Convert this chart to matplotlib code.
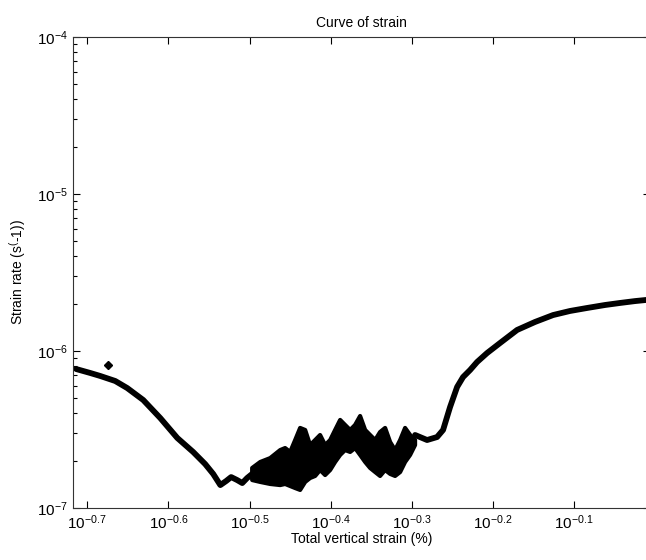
import numpy as np
import matplotlib
matplotlib.use("Agg")
import matplotlib.pyplot as plt
from matplotlib.ticker import FixedLocator, FixedFormatter, LogLocator, NullFormatter

plt.rcParams["font.family"] = ["Liberation Sans", "DejaVu Sans"]
plt.rcParams["mathtext.default"] = "regular"

# log10 of strain (%) and strain rate (1/s)
# smooth descending part
left_lx = [-0.7135, -0.6963, -0.684, -0.6655, -0.6507, -0.631, -0.610, -0.589,
           -0.5695, -0.5547, -0.5448, -0.536, -0.5288, -0.5227, -0.5153, -0.509,
           -0.503, -0.4968]
left_ly = [-6.115, -6.140, -6.159, -6.191, -6.236, -6.312, -6.427, -6.554,
           -6.643, -6.720, -6.783, -6.854, -6.828, -6.803, -6.822, -6.841,
           -6.809, -6.783]

# noisy band: upper / lower envelope
band_lx = [-0.4968, -0.4869, -0.4746, -0.4623, -0.4562, -0.45, -0.4438, -0.4377,
           -0.4315, -0.4254, -0.4192, -0.4131, -0.4069, -0.4007, -0.3946, -0.3884,
           -0.3823, -0.3761, -0.3700, -0.3638, -0.3576, -0.3515, -0.3453, -0.3392,
           -0.3330, -0.3268, -0.3207, -0.3145, -0.3084, -0.3022, -0.2961]
band_hi = [-6.745, -6.707, -6.682, -6.631, -6.618, -6.643, -6.567, -6.490,
           -6.503, -6.599, -6.567, -6.535, -6.599, -6.567, -6.503, -6.439,
           -6.471, -6.503, -6.471, -6.414, -6.503, -6.535, -6.567, -6.516,
           -6.490, -6.580, -6.631, -6.567, -6.490, -6.535, -6.567]
band_lo = [-6.822, -6.834, -6.847, -6.854, -6.847, -6.860, -6.873, -6.885,
           -6.834, -6.809, -6.796, -6.758, -6.790, -6.758, -6.707, -6.662,
           -6.631, -6.643, -6.618, -6.662, -6.707, -6.745, -6.771, -6.796,
           -6.758, -6.783, -6.796, -6.771, -6.707, -6.662, -6.599]

# smooth rising part
right_lx = [-0.2961, -0.2813, -0.269, -0.2616, -0.253, -0.2443, -0.237, -0.2283,
            -0.2197, -0.2074, -0.1914, -0.1704, -0.1483, -0.1261, -0.1052,
            -0.0842, -0.0621, -0.0436, -0.0251, -0.0116]
right_ly = [-6.535, -6.567, -6.548, -6.503, -6.357, -6.229, -6.166, -6.121,
            -6.070, -6.013, -5.949, -5.866, -5.815, -5.771, -5.745, -5.726,
            -5.707, -5.694, -5.682, -5.675]

# single stray point
outlier_lx = [-0.6741]
outlier_ly = [-6.089]

xtick_exp = [-0.7, -0.6, -0.5, -0.4, -0.3, -0.2, -0.1]

fig = plt.figure(figsize=(6.46, 5.6), dpi=100)
ax = fig.add_axes([73 / 646, 1 - 508 / 560, 577 / 646, 471 / 560])

p = lambda v: 10 ** np.array(v)

line_kw = dict(color="k", lw=4.2, solid_capstyle="round", solid_joinstyle="round")
ax.plot(p(left_lx), p(left_ly), **line_kw)
# band outline: upper envelope forward, lower envelope back
poly_x = np.concatenate([p(band_lx), p(band_lx)[::-1]])
poly_y = np.concatenate([p(band_hi), p(band_lo)[::-1]])
ax.fill(poly_x, poly_y, facecolor="k", edgecolor="k", lw=3, joinstyle="round")
ax.plot(p(right_lx), p(right_ly), **line_kw)
ax.plot(p(outlier_lx), p(outlier_ly), "kD", ms=4)

ax.set_xscale("log")
ax.set_yscale("log")
ax.set_xlim(10 ** -0.7175, 10 ** -0.0067)
ax.set_ylim(1e-7, 1e-4)

ax.xaxis.set_major_locator(FixedLocator(p(xtick_exp)))
ax.xaxis.set_major_formatter(FixedFormatter(["$10^{%g}$" % e for e in xtick_exp]))
ax.xaxis.set_minor_locator(FixedLocator([]))
ax.yaxis.set_major_locator(LogLocator(base=10, numticks=10))
ax.yaxis.set_minor_locator(LogLocator(base=10, subs=np.arange(2, 10), numticks=20))
ax.yaxis.set_minor_formatter(NullFormatter())

ax.tick_params(which="both", direction="in", top=True, right=True,
               labelsize=11, width=0.8)
ax.tick_params(which="major", length=5, pad=4)
ax.tick_params(which="minor", length=3)
for s in ax.spines.values():
    s.set_linewidth(0.8)
    s.set_color("#333333")

ax.set_title("Curve of strain", fontsize=10, pad=7)
ax.set_xlabel("Total vertical strain (%)", fontsize=10, labelpad=0)
ax.set_ylabel("Strain rate (s$^{(}$-1))", fontsize=10, labelpad=6)

fig.savefig("out.png", dpi=100)
